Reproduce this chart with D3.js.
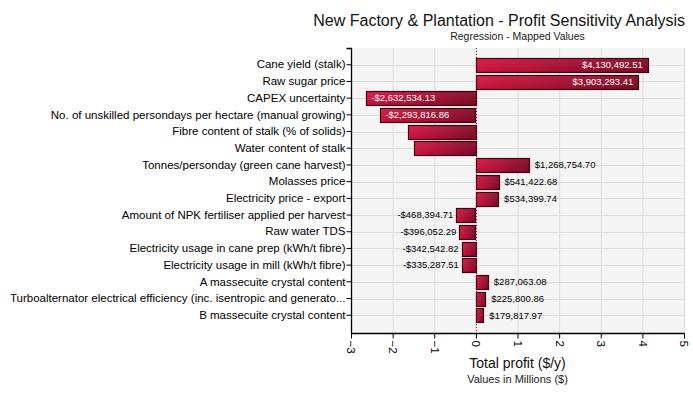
<!DOCTYPE html>
<html><head><meta charset="utf-8">
<script src="https://cdn.jsdelivr.net/npm/d3@7"></script>
<style>
body{margin:0;background:#fff;}
svg text{font-family:"Liberation Sans",Arial,sans-serif;}
</style></head>
<body><svg id="c" width="693" height="394"></svg>
<script>
const categories = [
  "Cane yield (stalk)",
  "Raw sugar price",
  "CAPEX uncertainty ",
  "No. of unskilled persondays per hectare (manual growing)",
  "Fibre content of stalk (% of solids)",
  "Water content of stalk",
  "Tonnes/personday (green cane harvest)",
  "Molasses price",
  "Electricity price - export",
  "Amount of NPK fertiliser applied per harvest",
  "Raw water TDS",
  "Electricity usage in cane prep (kWh/t fibre)",
  "Electricity usage in mill (kWh/t fibre)",
  "A massecuite crystal content",
  "Turboalternator electrical efficiency (inc. isentropic and generato...",
  "B massecuite crystal content"
];
const values = [4130492.51, 3903293.41, -2632534.13, -2293816.86, -1640000, -1495000,
  1268754.70, 541422.68, 534399.74, -468394.71, -396052.29, -342542.82, -335287.51,
  287063.08, 225800.86, 179817.97];
const xTicks = [-3,-2,-1,0,1,2,3,4,5];
const title = "New Factory & Plantation - Profit Sensitivity Analysis";
const subtitle = "Regression - Mapped Values";
const xTitle = "Total profit ($/y)";
const xSubtitle = "Values in Millions ($)";

const svg = d3.select("#c");
const L = 351, R = 684, T = 48, B = 333;
const x = d3.scaleLinear().domain([-3, 5]).range([L, R]);
const y = d3.scaleBand().domain(categories).range([56.5, 323.5]).paddingInner(0.19).paddingOuter(0.09);
const yc = d => y(d) + y.bandwidth() / 2;

const defs = svg.append("defs");
const g = defs.append("linearGradient").attr("id","bg").attr("x1","0").attr("x2","1").attr("y1","0").attr("y2","0");
g.append("stop").attr("offset","0").attr("stop-color","#d6143e");
g.append("stop").attr("offset","1").attr("stop-color","#820a27");
const g2 = defs.append("linearGradient").attr("id","sh").attr("x1","0").attr("x2","0").attr("y1","0").attr("y2","1");
g2.append("stop").attr("offset","0").attr("stop-color","#fff").attr("stop-opacity",0.06);
g2.append("stop").attr("offset","1").attr("stop-color","#000").attr("stop-opacity",0.08);

// plot background
svg.append("rect").attr("x",L).attr("y",T).attr("width",R-L).attr("height",B-T).attr("fill","#f4f4f4");
// grid
svg.append("g").selectAll("line").data(xTicks).join("line")
  .attr("x1",d=>x(d)+0.5).attr("x2",d=>x(d)+0.5).attr("y1",T).attr("y2",B)
  .attr("stroke","#dcdcdc");
svg.append("g").selectAll("line").data(categories).join("line")
  .attr("x1",L).attr("x2",R).attr("y1",d=>Math.round(yc(d))+0.5).attr("y2",d=>Math.round(yc(d))+0.5)
  .attr("stroke","#dcdcdc");

// bars
const data = categories.map((c,i)=>({c, v: values[i]}));
const bars = svg.append("g");
bars.selectAll("rect.b").data(data).join("rect").attr("class","b")
  .attr("x",d=>Math.round(x(Math.min(0,d.v/1e6)))+0.5)
  .attr("y",d=>Math.round(y(d.c))+0.5)
  .attr("width",d=>Math.round(Math.abs(x(d.v/1e6)-x(0))))
  .attr("height",Math.round(y.bandwidth()))
  .attr("fill","url(#bg)").attr("stroke","#3c0010").attr("stroke-width",1.2);
bars.selectAll("rect.s").data(data).join("rect").attr("class","s")
  .attr("x",d=>Math.round(x(Math.min(0,d.v/1e6)))+1)
  .attr("y",d=>Math.round(y(d.c))+1)
  .attr("width",d=>Math.max(0,Math.round(Math.abs(x(d.v/1e6)-x(0)))-1))
  .attr("height",Math.round(y.bandwidth())-1)
  .attr("fill","url(#sh)");

// zero line
svg.append("line").attr("x1",x(0)+0.5).attr("x2",x(0)+0.5).attr("y1",T).attr("y2",B)
  .attr("stroke","#b00020").attr("stroke-dasharray","1,2");

// value labels
const fmt = v => (v<0?"-":"") + "$" + d3.format(",.2f")(Math.abs(v));
const lab = svg.append("g").attr("font-size","9.5px");
data.forEach(d => {
  const t = lab.append("text").attr("y", yc(d.c)).attr("dy","0.35em").text(fmt(d.v));
  const w = t.node().getComputedTextLength();
  const bw = Math.abs(x(d.v/1e6)-x(0));
  const xe = x(d.v/1e6);
  if (w + 10 <= bw) {
    t.attr("fill","#fff");
    if (d.v>0) t.attr("x", xe-5).attr("text-anchor","end");
    else t.attr("x", xe+5).attr("text-anchor","start");
  } else if (d.v>0 && xe + 6 + w <= R) {
    t.attr("x", xe+6).attr("fill","#000");
  } else if (d.v<0 && xe - 3 - w >= L + 4 && bw < 40) {
    t.attr("x", xe-3).attr("text-anchor","end").attr("fill","#000");
  } else t.remove();
});

// axes
const yAxis = d3.axisLeft(y).tickSize(5).tickPadding(1);
const ya = svg.append("g").attr("transform",`translate(${L+0.5},0)`).call(yAxis);
ya.select(".domain").attr("d",`M-5,${T+0.5}H0V${B}`);
ya.selectAll("text").attr("font-size","11.5px").attr("fill","#000").style("font-family","Liberation Sans, Arial, sans-serif");
const xAxis = d3.axisBottom(x).tickValues(xTicks).tickFormat(d3.format("d")).tickSize(5);
const xa = svg.append("g").attr("transform",`translate(0,${B+0.5})`).call(xAxis);
xa.select(".domain").attr("d",`M${L},0H${R+0.5}`);
xa.selectAll("text").attr("font-size","11.5px").attr("fill","#000")
  .attr("transform","rotate(90)").attr("text-anchor","start").attr("x",7).attr("y",0).attr("dy","0.35em")
  .style("font-family","Liberation Sans, Arial, sans-serif");
svg.selectAll(".tick line").attr("stroke","#000");
svg.selectAll(".domain").attr("stroke","#000").attr("stroke-width",1.3);

// titles
svg.append("text").attr("x",685).attr("y",26).attr("text-anchor","end").attr("font-size","16px").attr("fill","#111").text(title);
svg.append("text").attr("x",(L+R)/2).attr("y",40).attr("text-anchor","middle").attr("font-size","10.5px").attr("fill","#222").text(subtitle);
svg.append("text").attr("x",(L+R)/2).attr("y",368).attr("text-anchor","middle").attr("font-size","14px").attr("fill","#111").text(xTitle);
svg.append("text").attr("x",(L+R)/2).attr("y",383).attr("text-anchor","middle").attr("font-size","11px").attr("fill","#222").text(xSubtitle);
</script></body></html>
